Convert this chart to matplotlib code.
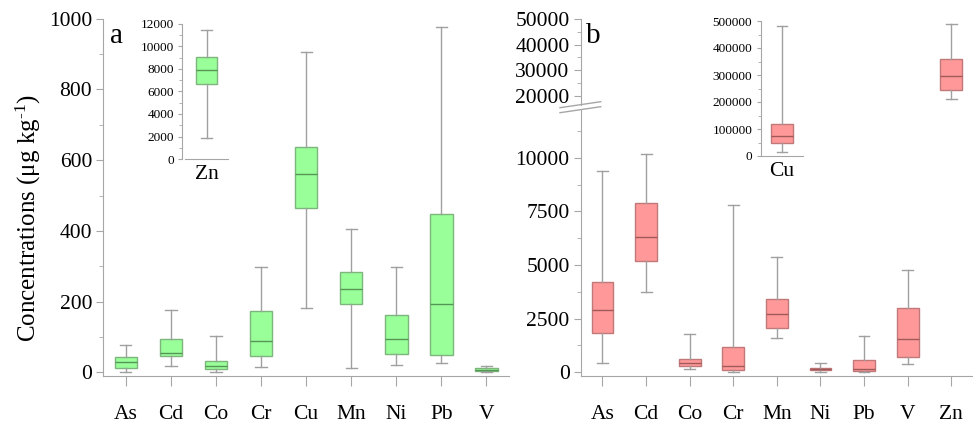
import matplotlib.pyplot as plt
from matplotlib.ticker import MultipleLocator
from matplotlib.lines import Line2D

plt.rcParams['font.family'] = ['Liberation Serif', 'DejaVu Serif']
plt.rcParams['mathtext.fontset'] = 'custom'
plt.rcParams['mathtext.rm'] = 'Liberation Serif'
plt.rcParams['mathtext.it'] = 'Liberation Serif:italic'

# ---- data ----
# panel a
elements_a = ['As', 'Cd', 'Co', 'Cr', 'Cu', 'Mn', 'Ni', 'Pb', 'V']
a_whislo = [1, 19, 1, 16, 183, 11, 21, 25, 0]
a_q1 = [13, 47, 10, 45, 464, 194, 51, 48, 3]
a_med = [28, 54, 19, 88, 561, 237, 93, 194, 7]
a_q3 = [44, 93, 31, 172, 638, 283, 161, 448, 11]
a_whishi = [77, 176, 102, 299, 905, 405, 299, 976, 19]

# panel a inset (Zn): whislo, q1, med, q3, whishi
zn_a = [1900, 6650, 7950, 9100, 11500]

# panel b
elements_b = ['As', 'Cd', 'Co', 'Cr', 'Mn', 'Ni', 'Pb', 'V', 'Zn']
b_whislo = [450, 3760, 140, 10, 1610, 10, 10, 370]
b_q1 = [1850, 5170, 295, 90, 2050, 90, 45, 730]
b_med = [2890, 6290, 420, 295, 2700, 140, 140, 1550]
b_q3 = [4195, 7880, 605, 1195, 3400, 185, 560, 3000]
b_whishi = [9385, 10160, 1800, 7785, 5390, 430, 1680, 4770]

# panel b inset (Cu) and Zn drawn on the inset scale
cu_b = [14800, 47000, 74000, 118500, 482600]
zn_b = [210000, 243300, 295200, 360400, 488900]

W, H = 973, 426
GREY = '#a6a6a6'
WHISK = '#a0a0a0'
GREEN_FACE, GREEN_EDGE, GREEN_MED = '#99ff99', '#7db57d', '#559555'
PINK_FACE, PINK_EDGE, PINK_MED = '#ff9999', '#c07878', '#a05858'


def px_axes(fig, x0, y0, x1, y1):
    """Add axes from pixel box (top-left origin)."""
    return fig.add_axes([x0 / W, 1 - y1 / H, (x1 - x0) / W, (y1 - y0) / H])


def draw_boxes(ax, positions, lo, q1, med, q3, hi, face, edge, medc):
    stats = [dict(whislo=l, q1=a, med=m, q3=b, whishi=h, fliers=[])
             for l, a, m, b, h in zip(lo, q1, med, q3, hi)]
    ax.bxp(stats, positions=positions, widths=0.5, patch_artist=True,
           showfliers=False, manage_ticks=False,
           boxprops=dict(facecolor=face, edgecolor=edge, linewidth=1),
           medianprops=dict(color=medc, linewidth=1),
           whiskerprops=dict(color=WHISK, linewidth=1),
           capprops=dict(color=WHISK, linewidth=1))


def style_axes(ax, bottom=True, tsize=15.5):
    for s in ['top', 'right']:
        ax.spines[s].set_visible(False)
    ax.spines['left'].set_color(GREY)
    ax.spines['bottom'].set_color(GREY)
    ax.spines['bottom'].set_visible(bottom)
    ax.tick_params(axis='y', which='major', direction='out', length=5,
                   color=GREY, labelsize=tsize, pad=3)
    ax.tick_params(axis='y', which='minor', direction='out', length=3, color=GREY)
    ax.set_facecolor('none')


fig = plt.figure(figsize=(W / 100, H / 100), dpi=100)

# ---- panel a ----
ax_a = px_axes(fig, 103.3, 18.8, 509, 376)
draw_boxes(ax_a, range(len(elements_a)), a_whislo, a_q1, a_med, a_q3, a_whishi,
           GREEN_FACE, GREEN_EDGE, GREEN_MED)
ax_a.set_xlim(-0.5, len(elements_a) - 0.5)
ax_a.set_ylim(-10.5, 1000)
ax_a.yaxis.set_major_locator(MultipleLocator(200))
ax_a.yaxis.set_minor_locator(MultipleLocator(100))
style_axes(ax_a)
ax_a.set_xticks(range(len(elements_a)))
ax_a.set_xticklabels(elements_a)
ax_a.tick_params(axis='x', direction='out', length=7, color=GREY,
                 labelsize=15.5, pad=14)

# inset a (Zn)
ax_ia = px_axes(fig, 185, 24, 228, 159)
draw_boxes(ax_ia, [0], *[[v] for v in zn_a], GREEN_FACE, GREEN_EDGE, GREEN_MED)
ax_ia.set_xlim(-0.5, 0.5)
ax_ia.set_ylim(0, 12000)
ax_ia.yaxis.set_major_locator(MultipleLocator(2000))
ax_ia.yaxis.set_minor_locator(MultipleLocator(1000))
style_axes(ax_ia, tsize=9.5)
ax_ia.spines['left'].set_position(('outward', 2))
ax_ia.tick_params(axis='y', which='major', length=3, pad=3)
ax_ia.tick_params(axis='y', which='minor', length=2)
ax_ia.set_xticks([0])
ax_ia.set_xticklabels(['Zn'])
ax_ia.tick_params(axis='x', length=0, labelsize=15.5, pad=4)

# ---- panel b (broken axis) ----
ax_b = px_axes(fig, 580.7, 109.7, 973, 376)
draw_boxes(ax_b, range(len(b_med)), b_whislo, b_q1, b_med, b_q3, b_whishi,
           PINK_FACE, PINK_EDGE, PINK_MED)
ax_b.set_xlim(-0.5, len(elements_b) - 0.5)
ax_b.set_ylim(-172, 12242)
ax_b.yaxis.set_major_locator(MultipleLocator(2500))
ax_b.yaxis.set_minor_locator(MultipleLocator(1250))
style_axes(ax_b)
ax_b.set_xticks(range(len(elements_b)))
ax_b.set_xticklabels(elements_b)
ax_b.tick_params(axis='x', direction='out', length=7, color=GREY,
                 labelsize=15.5, pad=14)

ax_bt = px_axes(fig, 580.7, 18.7, 973, 104.7)
ax_bt.set_xlim(-0.5, len(elements_b) - 0.5)
ax_bt.set_ylim(16700, 50000)
ax_bt.yaxis.set_major_locator(MultipleLocator(10000))
ax_bt.yaxis.set_minor_locator(MultipleLocator(5000))
style_axes(ax_bt, bottom=False)
ax_bt.set_xticks([])

# break marks across the spine
sx = 580.7
for dy in (0, 5):
    fig.add_artist(Line2D([(sx - 20.7) / W, (sx + 20) / W],
                          [1 - (107.7 + dy) / H, 1 - (101.7 + dy) / H],
                          transform=fig.transFigure, color=GREY, lw=1))

# inset b (Cu)
ax_ib = px_axes(fig, 760.7, 21, 803.3, 156)
draw_boxes(ax_ib, [0], *[[v] for v in cu_b], PINK_FACE, PINK_EDGE, PINK_MED)
ax_ib.set_xlim(-0.5, 0.5)
ax_ib.set_ylim(0, 500000)
ax_ib.yaxis.set_major_locator(MultipleLocator(100000))
ax_ib.yaxis.set_minor_locator(MultipleLocator(50000))
style_axes(ax_ib, tsize=9.5)
ax_ib.tick_params(axis='y', which='major', length=3, pad=3)
ax_ib.tick_params(axis='y', which='minor', length=2)
ax_ib.set_xticks([0])
ax_ib.set_xticklabels(['Cu'])
ax_ib.tick_params(axis='x', length=0, labelsize=15.5, pad=4)

# Zn of panel b, drawn on the inset scale above its category
zn_idx = elements_b.index('Zn')
x_left = ax_b.transData.transform((zn_idx - 0.5, 0))[0]
x_right = ax_b.transData.transform((zn_idx + 0.5, 0))[0]
ax_zn = px_axes(fig, x_left, 21, x_right, 156)
draw_boxes(ax_zn, [0], *[[v] for v in zn_b], PINK_FACE, PINK_EDGE, PINK_MED)
ax_zn.set_xlim(-0.5, 0.5)
ax_zn.set_ylim(0, 500000)
ax_zn.axis('off')

# labels
fig.text(28 / W, 1 - 218 / H, r'Concentrations (μg kg$^{\text{-}1}$)', rotation=90,
         ha='center', va='center', fontsize=18)
fig.text(110 / W, 1 - 43.3 / H, 'a', fontsize=21, va='baseline', ha='left')
fig.text(586 / W, 1 - 43.3 / H, 'b', fontsize=21, va='baseline', ha='left')

fig.savefig('out.png', dpi=100)
